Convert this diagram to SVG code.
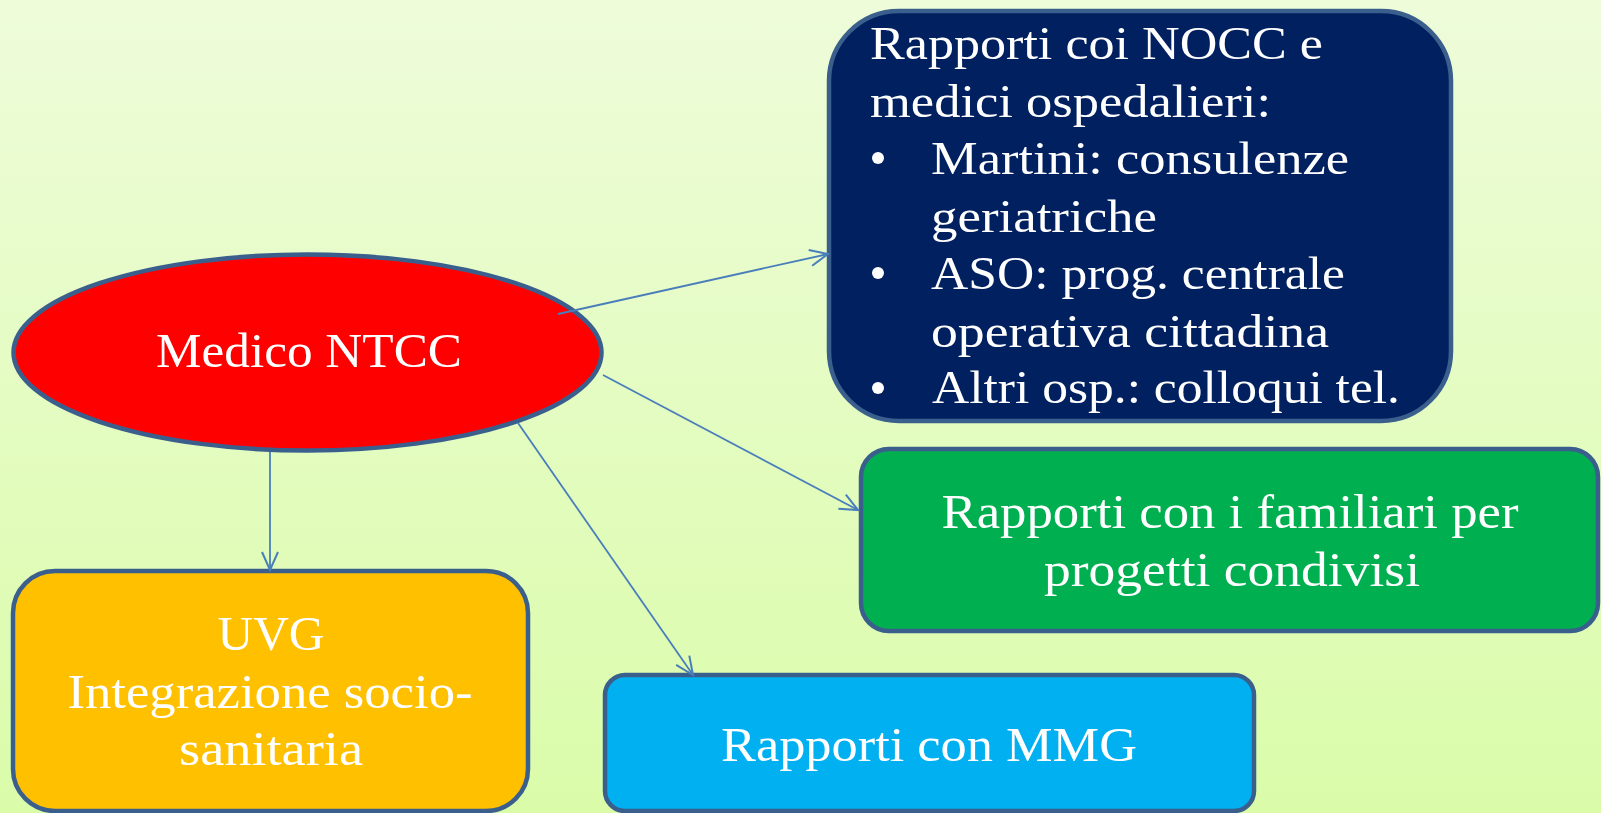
<svg xmlns="http://www.w3.org/2000/svg" width="1601" height="813" viewBox="0 0 1601 813">
<defs>
<linearGradient id="bg" x1="0" y1="0" x2="0" y2="1">
<stop offset="0" stop-color="#eefcda"/>
<stop offset="1" stop-color="#dafca9"/>
</linearGradient>
<marker id="arr" markerUnits="userSpaceOnUse" markerWidth="24" markerHeight="24" refX="20" refY="10" orient="auto" viewBox="0 0 24 20">
<path d="M2,2 L20,10 L2,18" fill="none" stroke="#4a7ebb" stroke-width="2"/>
</marker>
<style>
.box{stroke:#3b5f8d;stroke-width:4.5}
.t{font-family:"Liberation Serif","Times New Roman",serif;fill:#ffffff;font-size:48px}
.tb{font-family:"Liberation Serif","Times New Roman",serif;fill:#ffffff;font-size:46px}
.c{text-anchor:middle}
.conn{stroke:#4a7ebb;stroke-width:1.8;fill:none;marker-end:url(#arr)}
</style>
</defs>
<rect x="0" y="0" width="1601" height="813" fill="url(#bg)"/>

<g id="medico">
<ellipse class="box" cx="307.5" cy="352.5" rx="294" ry="98" fill="#ff0000"/>
<text class="t c" x="309" y="367" textLength="306" lengthAdjust="spacingAndGlyphs">Medico NTCC</text>
</g>

<g id="nocc">
<rect class="box" x="829" y="11" width="622" height="410" rx="70" ry="70" fill="#002060"/>
<text class="tb" x="870" y="59" textLength="453" lengthAdjust="spacingAndGlyphs">Rapporti coi NOCC e</text>
<text class="tb" x="870" y="117" textLength="401" lengthAdjust="spacingAndGlyphs">medici ospedalieri:</text>
<circle cx="878" cy="158" r="6" fill="#ffffff"/>
<text class="tb" x="931" y="174" textLength="418" lengthAdjust="spacingAndGlyphs">Martini: consulenze</text>
<text class="tb" x="931" y="232" textLength="226" lengthAdjust="spacingAndGlyphs">geriatriche</text>
<circle cx="878" cy="273" r="6" fill="#ffffff"/>
<text class="tb" x="931" y="289" textLength="414" lengthAdjust="spacingAndGlyphs">ASO: prog. centrale</text>
<text class="tb" x="931" y="347" textLength="398" lengthAdjust="spacingAndGlyphs">operativa cittadina</text>
<circle cx="878" cy="388" r="6" fill="#ffffff"/>
<text class="tb" x="932" y="403" textLength="468" lengthAdjust="spacingAndGlyphs">Altri osp.: colloqui tel.</text>
</g>

<g id="familiari">
<rect class="box" x="861" y="449" width="737" height="182" rx="28" ry="28" fill="#00b050"/>
<text class="t c" x="1230" y="528" textLength="577" lengthAdjust="spacingAndGlyphs">Rapporti con i familiari per</text>
<text class="t c" x="1232" y="586" textLength="376" lengthAdjust="spacingAndGlyphs">progetti condivisi</text>
</g>

<g id="uvg">
<rect class="box" x="13" y="571" width="515" height="240" rx="42" ry="42" fill="#ffc000"/>
<text class="t c" x="271" y="650" textLength="107" lengthAdjust="spacingAndGlyphs">UVG</text>
<text class="t c" x="270" y="708" textLength="405" lengthAdjust="spacingAndGlyphs">Integrazione socio-</text>
<text class="t c" x="271" y="765" textLength="184" lengthAdjust="spacingAndGlyphs">sanitaria</text>
</g>

<g id="mmg">
<rect class="box" x="605" y="675" width="649" height="136" rx="20" ry="20" fill="#00b0f0"/>
<text class="t c" x="929" y="761" textLength="416" lengthAdjust="spacingAndGlyphs">Rapporti con MMG</text>
</g>

<g id="connectors">
<line class="conn" x1="558" y1="314" x2="828" y2="254"/>
<line class="conn" x1="603" y1="375" x2="858" y2="510"/>
<line class="conn" x1="518" y1="423" x2="693" y2="675"/>
<line class="conn" x1="270" y1="452" x2="270" y2="570"/>
</g>
</svg>
